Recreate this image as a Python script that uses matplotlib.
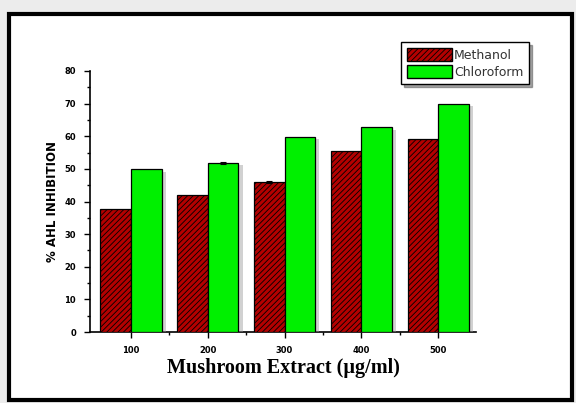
import matplotlib
matplotlib.use("Agg")
import matplotlib.pyplot as plt
import matplotlib.patheffects as pe
from matplotlib.patches import Rectangle, Patch
from matplotlib.ticker import MultipleLocator, FixedLocator
import numpy as np

categories = ["100", "200", "300", "400", "500"]
methanol = [37.8, 42.0, 46.1, 55.6, 59.1]
methanol_err = [0.0, 0.0, 0.3, 0.0, 0.0]
chloroform = [50.0, 51.9, 59.9, 62.9, 70.0]
chloroform_err = [0.0, 0.3, 0.0, 0.0, 0.0]
series_names = ["Methanol", "Chloroform"]
y_ticks = [0, 10, 20, 30, 40, 50, 60, 70, 80]

plt.rcParams['hatch.color'] = '#5c0000'
plt.rcParams['hatch.linewidth'] = 0.6

fig = plt.figure(figsize=(5.76, 4.03), dpi=100)
fig.patch.set_facecolor('#ececec')
# white panel with thick black frame
fig.patches.append(Rectangle((9/576, 1 - 400/403), (572-9)/576, (400-14)/403,
                             transform=fig.transFigure, facecolor='white',
                             edgecolor='black', linewidth=3, zorder=-10))

ax = fig.add_axes([90/576, 1 - 332/403, (476-90)/576, (332-71)/403], zorder=1)
ax.set_facecolor('none')

x = np.arange(len(categories))
w = 0.4
shadow = [pe.SimplePatchShadow(offset=(3, -2), shadow_rgbFace='#999999', alpha=0.45), pe.Normal()]
mcol = '#b30000'
ccol = '#00f000'
b1 = ax.bar(x - w/2, methanol, w, color=mcol, edgecolor='black', linewidth=0.9,
            hatch='//////', zorder=3)
b2 = ax.bar(x + w/2, chloroform, w, color=ccol, edgecolor='black', linewidth=0.9,
            zorder=3)
for b in list(b1) + list(b2):
    b.set_path_effects(shadow)

# error bars only where an error is given
for off, vals, errs in [(-w/2, methanol, methanol_err), (w/2, chloroform, chloroform_err)]:
    vals = np.array(vals); errs = np.array(errs)
    m = errs > 0
    if m.any():
        ax.errorbar(x[m] + off, vals[m], yerr=errs[m], fmt='none', ecolor='black',
                    capsize=2, elinewidth=0.8, capthick=0.8, zorder=4)

ax.set_xlim(-0.53, 4.49)
ax.set_ylim(0, 80)
ax.set_xticks(x)
ax.set_xticklabels(categories, fontsize=6, fontweight='bold')
ax.xaxis.set_minor_locator(FixedLocator(x[:-1] + 0.5))
ax.set_yticks(y_ticks)
ax.set_yticklabels([str(t) for t in y_ticks], fontsize=6, fontweight='bold')
ax.yaxis.set_minor_locator(MultipleLocator(5))
ax.tick_params(axis='both', which='major', direction='out', length=4, width=1, pad=6)
ax.tick_params(axis='both', which='minor', direction='out', length=2.5, width=1)
for s in ['top', 'right']:
    ax.spines[s].set_visible(False)
for s in ['left', 'bottom']:
    ax.spines[s].set_linewidth(1.2)

ax.set_ylabel("% AHL INHIBITION", fontsize=8.5, fontweight='bold', labelpad=4)
ax.set_xlabel("Mushroom Extract (\u00b5g/ml)", fontsize=14.5, fontweight='bold',
              family='Liberation Serif', labelpad=2)

handles = [Patch(facecolor=mcol, edgecolor='black', hatch='//////'),
           Patch(facecolor=ccol, edgecolor='black')]
leg = fig.legend(handles=handles, labels=series_names,
                 loc='upper left', bbox_to_anchor=(401/576, 1 - 42/403),
                 borderaxespad=0,
                 fontsize=9, frameon=True, fancybox=False, shadow=True,
                 edgecolor='black', handlelength=3.6, handleheight=1.3,
                 handletextpad=0.2, borderpad=0.45, labelspacing=0.25)
leg.get_frame().set_linewidth(1)
for t in leg.get_texts():
    t.set_color('#333333')

fig.savefig("out.png", dpi=100, facecolor=fig.get_facecolor())
